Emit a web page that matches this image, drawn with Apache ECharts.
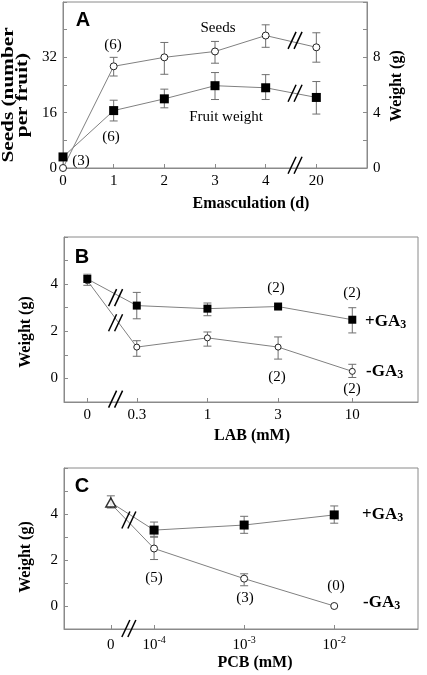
<!DOCTYPE html>
<html><head><meta charset="utf-8">
<script src="https://cdn.jsdelivr.net/npm/echarts@6/dist/echarts.min.js"></script>
<style>html,body{margin:0;padding:0;background:#fff}#c{width:427px;height:675px}</style>
</head><body><div id="c"></div>
<script>
// ---------- Panel A ----------
const catA = ['0', '1', '2', '3', '4', '20'];
const seeds = [0, 29.4, 32.0, 33.7, 38.3, 34.9];
const seedsLo = [0, 26.6, 27.1, 30.3, 34.9, 30.6];
const seedsHi = [0, 32.0, 36.3, 36.6, 41.4, 39.1];
const fruitW = [0.8, 4.15, 5.0, 5.95, 5.8, 5.1];
const fruitLo = [0.8, 3.4, 4.35, 4.95, 4.95, 3.9];
const fruitHi = [0.8, 4.9, 5.7, 6.9, 6.75, 6.25];
const breakA = [[4.58, 36.9], [4.58, 21.6], [4.58, 0.8]]; // on left axis units

// ---------- Panel B ----------
const labB = ['0', '0.3', '1', '3', '10'];
const slotB = [0, 0.7, 1.7, 2.7, 3.75];
const plusB = [4.22, 3.09, 2.96, 3.05, 2.49];
const plusBLo = [3.95, 2.53, 2.66, 2.99, 1.93];
const plusBHi = [4.42, 3.65, 3.2, 3.09, 3.0];
const minusB = [4.15, 1.33, 1.72, 1.33, 0.3];
const minusBLo = [4.15, 0.94, 1.37, 0.82, 0.04];
const minusBHi = [4.15, 1.6, 1.97, 1.76, 0.6];
const breakB = [[0.4, 3.43], [0.4, 2.36], [0.4, -0.88]];

// ---------- Panel C ----------
const expC = ['0', '-4', '-3', '-2'];
const slotC = [-4.48, -4, -3, -2];
const ctrlC = 4.5, ctrlCLo = 4.26, ctrlCHi = 4.79;
const plusC = [4.5, 3.3, 3.52, 3.96];
const plusCLo = [4.5, 2.99, 3.16, 3.6];
const plusCHi = [4.5, 3.65, 3.9, 4.35];
const minusC = [4.45, 2.5, 1.19, 0.0];
const minusCLo = [4.45, 2.02, 0.88, 0.0];
const minusCHi = [4.45, 3.03, 1.4, 0.0];
const breakC = [[-4.28, 3.74], [-4.28, -0.98]];

const SERIF = '"Liberation Serif", "Times New Roman", serif';
const GREY = '#808080';
const AX = '#8a8a8a';

function pairs(xs, ys) { return xs.map((x, i) => [x, ys[i]]); }

function errSeries(xi, yi, xs, lo, hi) {
  return {
    type: 'custom', xAxisIndex: xi, yAxisIndex: yi, z: 1, silent: true,
    data: xs.map((x, i) => [x, lo[i], hi[i]]).filter(d => d[1] !== d[2]),
    renderItem: (params, api) => {
      const x = api.value(0);
      const p1 = api.coord([x, api.value(1)]);
      const p2 = api.coord([x, api.value(2)]);
      const w = 4, st = { stroke: '#6f6f6f', lineWidth: 1 };
      return { type: 'group', children: [
        { type: 'line', shape: { x1: p1[0], y1: p1[1], x2: p2[0], y2: p2[1] }, style: st },
        { type: 'line', shape: { x1: p1[0] - w, y1: p1[1], x2: p1[0] + w, y2: p1[1] }, style: st },
        { type: 'line', shape: { x1: p2[0] - w, y1: p2[1], x2: p2[0] + w, y2: p2[1] }, style: st }
      ]};
    }
  };
}

function breakSeries(xi, yi, pts) {
  return {
    type: 'custom', xAxisIndex: xi, yAxisIndex: yi, z: 5, silent: true, clip: false,
    data: pts,
    renderItem: (params, api) => {
      const c = api.coord([api.value(0), api.value(1)]);
      const st = { stroke: '#000', lineWidth: 1.5 };
      const h = 8.5, d = 4;
      return { type: 'group', children: [
        { type: 'line', shape: { x1: c[0] - 3 - d, y1: c[1] + h, x2: c[0] - 3 + d, y2: c[1] - h }, style: st },
        { type: 'line', shape: { x1: c[0] + 3 - d, y1: c[1] + h, x2: c[0] + 3 + d, y2: c[1] - h }, style: st }
      ]};
    }
  };
}

function lineSeries(xi, yi, data, symbol, size, filled) {
  return {
    type: 'line', xAxisIndex: xi, yAxisIndex: yi, z: 3, data,
    symbol, symbolSize: size, showAllSymbol: true,
    lineStyle: { color: GREY, width: 1 },
    itemStyle: filled ? { color: '#000', borderColor: '#000', borderWidth: 0 }
                      : { color: '#fff', borderColor: '#222', borderWidth: 1 },
    emphasis: { disabled: true }, animation: false
  };
}

const labelStyle = { color: '#000', fontFamily: SERIF, fontSize: 15 };
const tickStyle = { show: true, inside: true, length: 4, lineStyle: { color: AX } };
const lineAx = { show: true, onZero: false, lineStyle: { color: AX, width: 1 } };

function yAx(grid, min, max, interval, fmt, pos) {
  return {
    type: 'value', gridIndex: grid, min, max, interval, position: pos || 'left',
    axisLine: lineAx, axisTick: tickStyle, splitLine: { show: false },
    axisLabel: Object.assign({ margin: 6, formatter: fmt }, labelStyle)
  };
}

const chart = echarts.init(document.getElementById('c'), null, { renderer: 'canvas' });

const T = (x, y, text, extra, rot, sx) => ({
  type: 'text', x, y, silent: true, rotation: rot || 0, scaleX: sx || 1,
  style: Object.assign({ text, fill: '#000', font: '15px ' + SERIF,
    align: 'center', verticalAlign: 'middle', textAlign: 'center', textVerticalAlign: 'middle' }, extra || {})
});
const BOLD = 'bold 16px ' + SERIF;
const SANS = 'bold 20px "Liberation Sans", Arial, sans-serif';
const gaRich = { s: { fontSize: 12, fontWeight: 'bold', fontFamily: SERIF, verticalAlign: 'bottom', padding: [4, 0, 0, 0] } };
const GA = (x, y, sign) => T(x, y, sign + 'GA{s|3}', { font: 'bold 17px ' + SERIF, align: 'left', textAlign: 'left', rich: gaRich });
const R = Math.PI / 2;

chart.setOption({
  animation: false,
  grid: [
    { left: 63, top: 2, width: 304, height: 166, show: true, borderColor: AX, borderWidth: 1 },
    { left: 64, top: 237, width: 354, height: 165, show: true, borderColor: AX, borderWidth: 1 },
    { left: 64, top: 468, width: 354, height: 161, show: true, borderColor: AX, borderWidth: 1 }
  ],
  xAxis: [
    { type: 'value', gridIndex: 0, min: 0, max: 6, interval: 1,
      axisLine: lineAx, splitLine: { show: false },
      axisTick: Object.assign({ customValues: [0, 1, 2, 3, 4, 5] }, tickStyle),
      axisLabel: Object.assign({ margin: 6, customValues: [0, 1, 2, 3, 4, 5], formatter: v => catA[Math.round(v)] }, labelStyle) },
    { type: 'value', gridIndex: 1, min: -0.33, max: 4.68,
      axisLine: lineAx, splitLine: { show: false },
      axisTick: Object.assign({ customValues: slotB }, tickStyle),
      axisLabel: Object.assign({ margin: 6, customValues: slotB, formatter: v => labB[slotB.indexOf(v)] }, labelStyle) },
    { type: 'value', gridIndex: 2, min: -5, max: -1.07,
      axisLine: lineAx, splitLine: { show: false },
      axisTick: Object.assign({ customValues: slotC }, tickStyle),
      axisLabel: Object.assign({ margin: 6, customValues: slotC,
        formatter: v => { const e = expC[slotC.indexOf(v)]; return e === '0' ? '{n|0}' : '{n|10}{s|' + e + '}'; },
        rich: { n: { fontSize: 15, fontFamily: SERIF, color: '#000', verticalAlign: 'bottom', lineHeight: 18 },
                s: { fontSize: 10, fontFamily: SERIF, color: '#000', verticalAlign: 'top', lineHeight: 18 } } }, labelStyle) }
  ],
  yAxis: [
    yAx(0, 0, 48, 8, v => (v % 16 === 0 && v < 48) ? String(v) : ''),
    yAx(0, 0, 12, 2, v => (v % 4 === 0 && v < 12) ? String(v) : '', 'right'),
    yAx(1, -1, 6, 1, v => (v >= 0 && v % 2 === 0 && v < 6) ? String(v) : ''),
    yAx(2, -1, 6, 1, v => (v >= 0 && v % 2 === 0 && v < 6) ? String(v) : '')
  ],
  series: [
    // A
    errSeries(0, 0, [0, 1, 2, 3, 4, 5], seedsLo, seedsHi),
    errSeries(0, 1, [0, 1, 2, 3, 4, 5], fruitLo, fruitHi),
    lineSeries(0, 0, pairs([0, 1, 2, 3, 4, 5], seeds), 'circle', 7, false),
    lineSeries(0, 1, pairs([0, 1, 2, 3, 4, 5], fruitW), 'rect', 9, true),
    breakSeries(0, 0, breakA),
    // B
    errSeries(1, 2, slotB, plusBLo, plusBHi),
    errSeries(1, 2, slotB, minusBLo, minusBHi),
    lineSeries(1, 2, pairs(slotB, minusB), 'circle', 6, false),
    lineSeries(1, 2, pairs(slotB, plusB), 'rect', 8, true),
    breakSeries(1, 2, breakB),
    // C
    errSeries(2, 3, [slotC[0]], [ctrlCLo], [ctrlCHi]),
    errSeries(2, 3, slotC, plusCLo, plusCHi),
    errSeries(2, 3, slotC, minusCLo, minusCHi),
    Object.assign(lineSeries(2, 3, pairs(slotC, minusC), 'circle', 7, false), { symbol: (v, p) => p.dataIndex === 0 ? 'none' : 'circle' }),
    Object.assign(lineSeries(2, 3, pairs(slotC, plusC), 'rect', 9, true), { symbol: (v, p) => p.dataIndex === 0 ? 'none' : 'rect' }),
    { type: 'scatter', xAxisIndex: 2, yAxisIndex: 3, z: 4, data: [[slotC[0], ctrlC]], symbol: 'triangle', symbolSize: [10, 9],
      itemStyle: { color: '#fff', borderColor: '#000', borderWidth: 1.5 } },
    breakSeries(2, 3, breakC)
  ],
  graphic: [
    // Panel A
    T(83, 20, 'A', { font: SANS }),
    T(218, 28, 'Seeds'),
    T(226, 117, 'Fruit weight'),
    T(113, 45, '(6)'),
    T(111, 137, '(6)'),
    T(81, 161, '(3)'),
    T(16, 95, 'Seeds (number\nper fruit)', { font: 'bold 17px ' + SERIF, lineHeight: 14 }, R, 1.25),
    T(397, 86, 'Weight (g)', { font: BOLD }, R),
    T(251, 204, 'Emasculation (d)', { font: BOLD }),
    // Panel B
    T(82, 257, 'B', { font: SANS }),
    T(276, 288, '(2)'), T(352, 293, '(2)'), T(277, 377, '(2)'), T(352, 389, '(2)'),
    GA(365, 322, '+'), GA(366, 372, '-'),
    T(26, 332, 'Weight (g)', { font: BOLD }, R),
    T(252, 436, 'LAB (mM)', { font: BOLD }),
    // Panel C
    T(82, 486, 'C', { font: SANS }),
    T(154, 578, '(5)'), T(245, 598, '(3)'), T(336, 586, '(0)'),
    GA(362, 515, '+'), GA(363, 603, '-'),
    T(26, 557, 'Weight (g)', { font: BOLD }, R),
    T(255, 663, 'PCB (mM)', { font: BOLD })
  ]
});
</script></body></html>
